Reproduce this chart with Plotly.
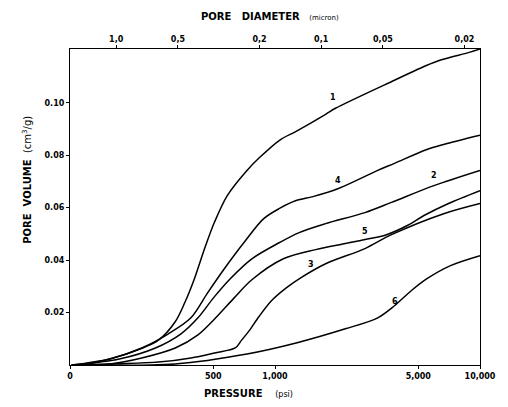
import plotly.graph_objects as go

# Pressure (psi) and pore volume (cm3/g)
p1 = [102, 129, 188, 270, 326, 364, 407, 454, 507, 585, 730, 843, 1052, 1268, 1766, 1972, 3826, 5510, 6430, 8950, 10000]
v1 = [0.0, 0.0008, 0.0042, 0.0095, 0.0165, 0.024, 0.0335, 0.0445, 0.0545, 0.0646, 0.0742, 0.0792, 0.0857, 0.0891, 0.0956, 0.0979, 0.1086, 0.1143, 0.1163, 0.1193, 0.1205]

p4 = [102, 156, 224, 302, 389, 469, 566, 706, 881, 1052, 1268, 1530, 2038, 3170, 3826, 5510, 6650, 10000]
v4 = [0.0, 0.0023, 0.0065, 0.0119, 0.018, 0.0275, 0.0367, 0.0467, 0.0558, 0.0597, 0.0627, 0.0642, 0.0673, 0.0742, 0.0769, 0.0822, 0.0841, 0.0876]

p2 = [102, 174, 261, 348, 421, 501, 605, 771, 1052, 1312, 1766, 2746, 3700, 5955, 10000]
v2 = [0.0, 0.0023, 0.0065, 0.0119, 0.018, 0.0256, 0.0329, 0.0405, 0.0467, 0.0505, 0.0539, 0.0581, 0.062, 0.0684, 0.0742]

p5 = [102, 156, 224, 326, 421, 524, 632, 771, 1099, 1581, 2203, 2906, 3500, 4420, 5330, 7022, 10000]
v5 = [0.0, 0.0004, 0.0027, 0.0065, 0.0115, 0.0187, 0.0256, 0.0325, 0.0405, 0.044, 0.0463, 0.0482, 0.0497, 0.0532, 0.057, 0.0616, 0.0665]

p3 = [102, 270, 389, 507, 640, 683, 747, 834, 961, 1135, 1340, 1766, 2746, 3700, 6650, 10000]
v3 = [0.0, 0.0011, 0.0027, 0.0046, 0.0065, 0.0092, 0.013, 0.0184, 0.0245, 0.0294, 0.0333, 0.0386, 0.0444, 0.0497, 0.0577, 0.0616]

p6 = [102, 326, 730, 1268, 2203, 3170, 3826, 4616, 5510, 7180, 10000]
v6 = [0.0, 0.0004, 0.0042, 0.0084, 0.0138, 0.018, 0.0226, 0.0283, 0.0329, 0.0379, 0.0417]

series = [("1", p1, v1), ("4", p4, v4), ("2", p2, v2), ("5", p5, v5), ("3", p3, v3), ("6", p6, v6)]

pressure_ticks = [100, 500, 1000, 5000, 10000]
pressure_labels = ["0", "500", "1,000", "5,000", "10,000"]
diameter_ticks = [1.0, 0.5, 0.2, 0.1, 0.05, 0.02]
diameter_labels = ["1,0", "0,5", "0,2", "0,1", "0,05", "0,02"]
volume_ticks = [0.02, 0.04, 0.06, 0.08, 0.10]
volume_labels = ["0.02", "0.04", "0.06", "0.08", "0.10"]
WASHBURN_K = 168.0  # psi * micron

FONT = "DejaVu Sans"

fig = go.Figure()
for name, p, v in series:
    fig.add_trace(go.Scatter(x=p, y=v, mode="lines", name=name,
                             line=dict(color="black", width=1.5, shape="spline", smoothing=0.9),
                             showlegend=False, hoverinfo="skip"))
# carrier trace for the top (pore diameter) axis
fig.add_trace(go.Scatter(x=[100, 10000], y=[0, 0], xaxis="x2", mode="lines",
                         line=dict(color="rgba(0,0,0,0)"), showlegend=False, hoverinfo="skip"))

axis_common = dict(showgrid=False, zeroline=False, showline=True, linecolor="black", linewidth=1.2,
                   ticks="outside", ticklen=3, tickcolor="black",
                   tickfont=dict(family=FONT, size=8, color="black"))

fig.update_layout(
    width=508, height=407,
    margin=dict(l=70, r=21, t=49, b=42),
    paper_bgcolor="white", plot_bgcolor="white",
    xaxis=dict(type="log", range=[2, 4], tickvals=pressure_ticks,
               ticktext=["<b>%s</b>" % t for t in pressure_labels],
               ticklabeloverflow="allow", **axis_common),
    xaxis2=dict(type="log", range=[2, 4], overlaying="x", side="top",
                tickvals=[WASHBURN_K / d for d in diameter_ticks],
                ticktext=["<b>%s</b>" % t for t in diameter_labels],
                ticklabeloverflow="allow", **axis_common),
    yaxis=dict(range=[0, 0.1205], tickvals=volume_ticks,
               ticktext=["<b>%s</b>" % t for t in volume_labels],
               mirror=True, **axis_common),
)

labels = [("1", 3.281, 0.102), ("4", 3.309, 0.0705), ("2", 3.775, 0.0722), ("5", 3.439, 0.0508),
          ("3", 3.175, 0.0382), ("6", 3.583, 0.0244)]
for t, lx, ly in labels:
    fig.add_annotation(x=lx, y=ly, text="<b>%s</b>" % t, showarrow=False, xref="x", yref="y",
                       font=dict(family=FONT, size=8, color="black"))


def pix_x(px):
    return (px - 70) / (487 - 70)


def pix_y(py):
    return (365 - py) / (365 - 49)


fig.add_annotation(x=pix_x(273), y=pix_y(16), xref="paper", yref="paper", showarrow=False,
                   xanchor="center", yanchor="middle",
                   text="<b>PORE&nbsp;&nbsp;&nbsp;DIAMETER</b>&nbsp;&nbsp;&nbsp;<span style='font-size:7px'>(micron)</span>",
                   font=dict(family=FONT, size=10, color="black"))
fig.add_annotation(x=pix_x(252), y=pix_y(393), xref="paper", yref="paper", showarrow=False,
                   xanchor="center", yanchor="middle",
                   text="<b>PRESSURE</b>&nbsp;&nbsp;&nbsp;&nbsp;<span style='font-size:8px'>(psi)</span>",
                   font=dict(family=FONT, size=10, color="black"))
fig.add_annotation(x=pix_x(26), y=pix_y(180), xref="paper", yref="paper", showarrow=False, textangle=-90,
                   xanchor="center", yanchor="middle",
                   text="<b>PORE&nbsp;&nbsp;VOLUME</b>&nbsp;&nbsp;(cm<sup>3</sup>/g)",
                   font=dict(family=FONT, size=10, color="black"))

fig.write_html("out.html", config={"displayModeBar": False},
               post_script="document.body.style.margin='0';")
